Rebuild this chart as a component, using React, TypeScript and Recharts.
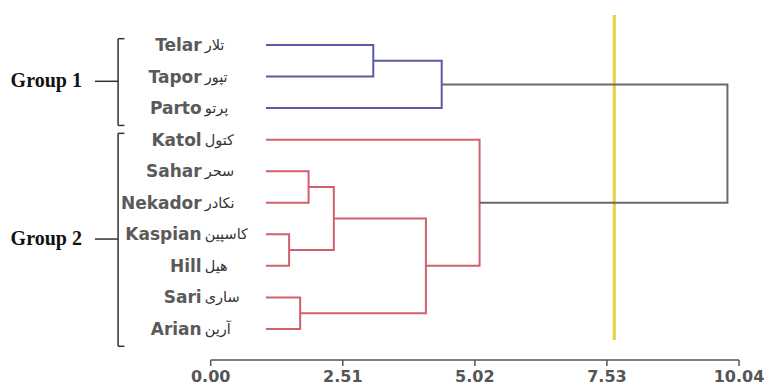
import { ComposedChart, Scatter, XAxis, YAxis, ReferenceLine } from 'recharts'

// leaves from top to bottom
const leaves = ['Telar', 'Tapor', 'Parto', 'Katol', 'Sahar', 'Nekador', 'Kaspian', 'Hill', 'Sari', 'Arian']
const persianNames = ['تلار', 'تپور', 'پرتو', 'کتول', 'سحر', 'نکادر', 'کاسپین', 'هیل', 'ساری', 'آرین']

// distance where the leaf branches begin
const leafBase = 1.05

// merges: [node a, node b, distance], new nodes numbered from 10 upward
const merges: [number, number, number][] = [
  [6, 7, 1.49],
  [8, 9, 1.7],
  [4, 5, 1.86],
  [12, 10, 2.34],
  [0, 1, 3.09],
  [13, 11, 4.09],
  [14, 2, 4.39],
  [3, 15, 5.11],
  [16, 17, 9.82],
]
const mergeCluster = ['red', 'red', 'red', 'red', 'blue', 'red', 'blue', 'red', 'root']

const cutHeight = 7.67
const xTicks = [0, 2.51, 5.02, 7.53, 10.04]

const groupNames = ['Group 1', 'Group 2']
const groupRows: [number, number][] = [[0, 2], [3, 9]]

const clusterColors: Record<string, string> = {
  blue: '#5a5aa6',
  red: '#d2606c',
  root: '#6a6a6a',
}

const nodeY: number[] = leaves.map((_, i) => i)
const nodeH: number[] = leaves.map(() => leafBase)
const links = merges.map(([a, b, h], k) => {
  nodeY.push((nodeY[a] + nodeY[b]) / 2)
  nodeH.push(h)
  return {
    color: clusterColors[mergeCluster[k]],
    points: [
      { x: nodeH[a], y: nodeY[a] },
      { x: h, y: nodeY[a] },
      { x: h, y: nodeY[b] },
      { x: nodeH[b], y: nodeY[b] },
    ],
  }
})

const LeafTick = (props: any) => {
  const { x, y, payload } = props
  const i = payload.value
  return (
    <g>
      <text x={x - 9} y={y} dy={6} textAnchor="end" fontFamily="DejaVu Sans" fontWeight="bold" fontSize={17} fill="#5a5a5a">
        {leaves[i]}
      </text>
      <text x={x - 6} y={y} dy={5} textAnchor="start" fontFamily="DejaVu Sans" fontSize={14.5} fill="#333">
        {persianNames[i]}
      </text>
    </g>
  )
}

const GroupLabel = (props: any) => {
  const { viewBox, text } = props
  return (
    <text
      x={viewBox.x - 13}
      y={viewBox.y}
      dy={6}
      textAnchor="end"
      fontFamily="Liberation Serif"
      fontWeight="bold"
      fontSize={20}
      fill="#111"
    >
      {text}
    </text>
  )
}

const bracketX = -1.76
const hook = 0.12
const dashX = -2.2

export default function App() {
  return (
    <div style={{ position: 'absolute', left: 0, top: 0, background: '#fff' }}>
      <ComposedChart width={779} height={387} margin={{ top: 15, right: 40, bottom: 0, left: 10 }}>
        <XAxis
          type="number"
          dataKey="x"
          domain={[0, 10.04]}
          ticks={xTicks}
          interval={0}
          tickFormatter={(v: number) => v.toFixed(2)}
          height={27}
          tickSize={6}
          tickMargin={5}
          stroke="#555"
          strokeWidth={1.5}
          tick={{ fill: '#555', fontSize: 16, fontWeight: 'bold', fontFamily: 'DejaVu Sans' }}
        />
        <YAxis
          type="number"
          dataKey="y"
          domain={[-0.951, 9.984]}
          reversed
          ticks={leaves.map((_, i) => i)}
          interval={0}
          width={200.7}
          axisLine={false}
          tickLine={false}
          tickSize={0}
          tickMargin={0}
          tick={(p: any) => <LeafTick {...p} />}
        />
        {links.map((l, k) => (
          <Scatter
            key={k}
            data={l.points}
            fill={l.color}
            line={{ stroke: l.color, strokeWidth: 2 }}
            shape={() => <g />}
            isAnimationActive={false}
          />
        ))}
        <ReferenceLine
          segment={[{ x: cutHeight, y: -0.95 }, { x: cutHeight, y: 9.35 }]}
          stroke="#e6cf3c"
          strokeWidth={3}
        />
        {groupRows.map(([first, last], g) => {
          const top = first - 0.2
          const bottom = last + 0.55
          const mid = (first + last) / 2 + 0.15
          return [
            <ReferenceLine key={`v${g}`} ifOverflow="visible" segment={[{ x: bracketX, y: top }, { x: bracketX, y: bottom }]} stroke="#333" strokeWidth={1.5} />,
            <ReferenceLine key={`t${g}`} ifOverflow="visible" segment={[{ x: bracketX, y: top }, { x: bracketX + hook, y: top }]} stroke="#333" strokeWidth={1.5} />,
            <ReferenceLine key={`b${g}`} ifOverflow="visible" segment={[{ x: bracketX, y: bottom }, { x: bracketX + hook, y: bottom }]} stroke="#333" strokeWidth={1.5} />,
            <ReferenceLine
              key={`d${g}`}
              ifOverflow="visible"
              segment={[{ x: dashX, y: mid }, { x: bracketX, y: mid }]}
              stroke="#333"
              strokeWidth={1.5}
              label={<GroupLabel text={groupNames[g]} />}
            />,
          ]
        })}
      </ComposedChart>
    </div>
  )
}
